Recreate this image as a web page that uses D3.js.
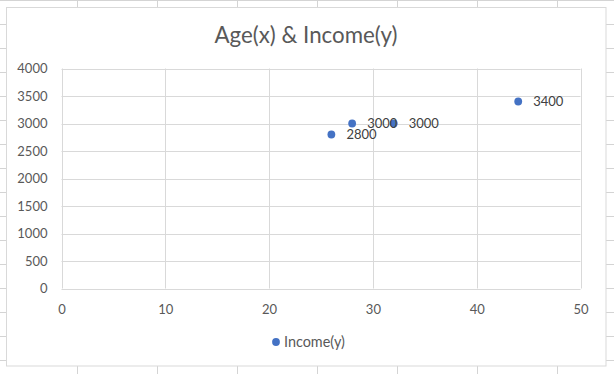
<!DOCTYPE html>
<html>
<head>
<meta charset="utf-8">
<script src="https://cdn.jsdelivr.net/npm/d3@7"></script>
<style>
  html, body { margin: 0; padding: 0; background: #fff; }
  svg { display: block; }
  text { font-family: Lato, "Open Sans", sans-serif; }
</style>
</head>
<body>
<svg id="chart" width="614" height="374"></svg>
<script>
const titleText = "Age(x) & Income(y)";
const seriesName = "Income(y)";
const ages = [26, 28, 32, 44];
const incomes = [2800, 3000, 3000, 3400];
const xTicks = [0, 10, 20, 30, 40, 50];
const yTicks = [0, 500, 1000, 1500, 2000, 2500, 3000, 3500, 4000];

const W = 614, H = 374;
const svg = d3.select("#chart");

// worksheet grid behind the chart
const sheet = svg.append("g");
sheet.selectAll("line.col").data(d3.range(77.5, W, 80)).join("line")
  .attr("x1", d => d).attr("x2", d => d).attr("y1", 0).attr("y2", H)
  .attr("stroke", "#d4d4d4").attr("stroke-width", 1);
sheet.selectAll("line.row").data(d3.range(0.5, H, 24)).join("line")
  .attr("x1", 0).attr("x2", W).attr("y1", d => d).attr("y2", d => d)
  .attr("stroke", "#d4d4d4").attr("stroke-width", 1);

// chart area
svg.append("rect").attr("x", 6.5).attr("y", 7.5).attr("width", 599.5).attr("height", 358.5)
  .attr("fill", "#fff").attr("stroke", "#d9d9d9").attr("stroke-width", 1);

const plot = { left: 61.5, right: 580.5, top: 68.5, bottom: 288.5 };
const x = d3.scaleLinear().domain([0, 50]).range([plot.left, plot.right]);
const y = d3.scaleLinear().domain([0, 4000]).range([plot.bottom, plot.top]);

// gridlines
const grid = svg.append("g");
grid.selectAll("line.h").data(yTicks).join("line")
  .attr("x1", plot.left).attr("x2", plot.right)
  .attr("y1", d => Math.round(y(d)) + 0.5).attr("y2", d => Math.round(y(d)) + 0.5)
  .attr("stroke", "#d9d9d9").attr("stroke-width", 1);
grid.selectAll("line.v").data(xTicks).join("line")
  .attr("x1", d => Math.round(x(d)) + 0.5).attr("x2", d => Math.round(x(d)) + 0.5)
  .attr("y1", plot.top).attr("y2", plot.bottom)
  .attr("stroke", "#d9d9d9").attr("stroke-width", 1);

// axes (labels only)
const yAxis = svg.append("g").attr("transform", `translate(${plot.left - 14},0)`)
  .call(d3.axisLeft(y).tickValues(yTicks).tickSize(0).tickPadding(0).tickFormat(d3.format("d")));
yAxis.select(".domain").remove();
yAxis.selectAll("text").attr("fill", "#595959").style("font-size", "13px")
  .style("font-family", "Lato, 'Open Sans', sans-serif");

const xAxis = svg.append("g").attr("transform", `translate(0,${plot.bottom + 16})`)
  .call(d3.axisBottom(x).tickValues(xTicks).tickSize(0).tickPadding(0).tickFormat(d3.format("d")));
xAxis.select(".domain").remove();
xAxis.selectAll("text").attr("fill", "#595959").style("font-size", "13px")
  .style("font-family", "Lato, 'Open Sans', sans-serif");

// title
svg.append("text").attr("x", 306).attr("y", 43).attr("text-anchor", "middle")
  .attr("fill", "#595959").style("font-size", "22.3px").text(titleText);

// points
const pts = ages.map((a, i) => ({ x: a, y: incomes[i] }));
svg.append("g").selectAll("circle").data(pts).join("circle")
  .attr("cx", d => x(d.x)).attr("cy", d => y(d.y)).attr("r", 3.9)
  .attr("fill", "#4472c4");

// data labels
svg.append("g").selectAll("text").data(pts).join("text")
  .attr("x", d => x(d.x) + 15).attr("y", d => y(d.y) + 4.8)
  .attr("fill", "#404040").style("font-size", "13px")
  .text(d => d.y);

// legend
const lg = svg.append("g").attr("transform", "translate(276,342)");
lg.append("circle").attr("r", 3.9).attr("fill", "#4472c4");
lg.append("text").attr("x", 8).attr("y", 5).attr("fill", "#595959")
  .style("font-size", "14.4px").text(seriesName);
</script>
</body>
</html>
